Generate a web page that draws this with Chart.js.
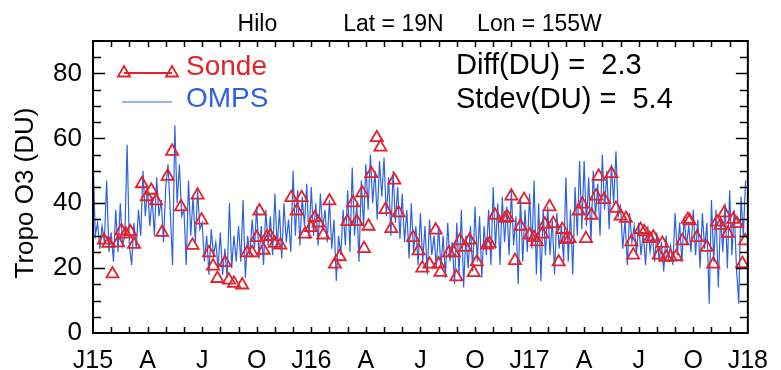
<!DOCTYPE html>
<html>
<head>
<meta charset="utf-8">
<script src="https://cdn.jsdelivr.net/npm/chart.js@4/dist/chart.umd.min.js"></script>
<style>
  html, body { margin: 0; padding: 0; background: #fff; }
  #wrap { width: 781px; height: 370px; position: relative; }
</style>
</head>
<body>
<div id="wrap"><canvas id="o3Chart"></canvas></div>
<script>
// x axis: months since Jan 2015, labels every 3 months
const monthLabels = ['J15', 'A', 'J', 'O', 'J16', 'A', 'J', 'O', 'J17', 'A', 'J', 'O', 'J18'];
const yTicks = [0, 20, 40, 60, 80];

// OMPS tropospheric O3, 8 readings per month (Jan 2015 .. Dec 2017)
const ompsPerMonth = 8;
const ompsO3 = [
    55, 30, 34, 26, 33, 28, 47, 25,
    31, 22, 38, 25, 40, 27, 30, 58,
    27, 21, 34, 26, 38, 30, 50, 36,
    45, 33, 42, 30, 48, 36, 41, 28,
    45, 52, 37, 21, 64, 40, 52, 36,
    38, 21, 47, 30, 42, 28, 44, 32,
    34, 22, 30, 18, 32, 24, 28, 20,
    31, 18, 26, 17, 40, 20, 30, 22,
    33, 22, 41, 17, 30, 24, 35, 26,
    39, 23, 33, 21, 38, 27, 36, 24,
    43, 26, 38, 23, 40, 28, 35, 25,
    50, 30, 44, 27, 42, 33, 46, 29,
    45, 30, 40, 27, 43, 32, 38, 28,
    41, 26, 35, 16, 30, 24, 38, 27,
    44, 25, 51, 30, 40, 22, 47, 33,
    52, 38, 55, 40, 50, 35, 53, 42,
    54, 36, 48, 30, 50, 34, 45, 29,
    43, 28, 38, 23, 40, 25, 33, 21,
    37, 22, 33, 18, 35, 24, 30, 20,
    33, 20, 30, 17, 34, 22, 28, 15,
    34, 18, 38, 14, 30, 20, 33, 19,
    39, 22, 36, 17, 33, 24, 38, 21,
    45, 26, 40, 21, 42, 28, 39, 24,
    44, 27, 36, 15, 42, 22, 38, 25,
    43, 26, 47, 18, 40, 16, 38, 24,
    39, 24, 35, 18, 37, 26, 33, 22,
    48, 22, 38, 18, 45, 30, 53, 32,
    53, 33, 48, 28, 50, 36, 46, 30,
    55, 38, 50, 32, 52, 40, 56, 36,
    39, 26, 35, 21, 37, 28, 33, 24,
    34, 24, 31, 21, 33, 25, 30, 22,
    31, 22, 28, 19, 30, 23, 27, 21,
    37, 24, 34, 22, 36, 27, 33, 25,
    38, 24, 35, 20, 37, 26, 34, 9,
    41, 22, 38, 14, 36, 25, 40, 20,
    44, 24, 38, 20, 9, 42, 30, 47
];

// ozonesonde launches: month position and column (DU)
const sondeMonth = [
    0.6, 0.84, 1.07, 1.38, 1.56, 1.8, 2.05, 2.26, 2.69, 2.96,
    3.2, 3.47, 3.8, 4.1, 4.35, 4.84, 5.47, 5.75, 5.97, 6.38,
    6.6, 6.84, 7.26, 7.47, 7.75, 8.2, 8.47, 8.75, 9.0, 9.15,
    9.38, 9.57, 9.75, 10.0, 10.3, 10.9, 11.2, 11.47, 11.66, 11.98,
    12.2, 12.4, 12.66, 13.0, 13.3, 13.56, 13.98, 14.3, 14.5, 14.8,
    14.9, 15.15, 15.3, 15.6, 15.8, 16.07, 16.4, 16.57, 16.8, 17.6,
    17.9, 18.1, 18.5, 18.84, 19.0, 19.1, 19.57, 19.84, 19.98, 20.17,
    20.47, 20.7, 20.93, 21.1, 21.66, 21.8, 22.1, 22.66, 22.8, 23.0,
    23.2, 23.5, 23.7, 24.0, 24.25, 24.4, 24.7, 24.84, 25.1, 25.3,
    25.6, 25.8, 26.0, 26.2, 26.7, 26.9, 27.1, 27.4, 27.66, 27.8,
    28.1, 28.5, 28.75, 29.0, 29.3, 29.6, 29.7, 30.1, 30.3, 30.6,
    30.8, 31.1, 31.3, 31.5, 31.75, 32.06, 32.4, 32.7, 32.8, 33.2,
    33.75, 34.1, 34.3, 34.5, 34.7, 34.9, 35.2, 35.4, 35.7, 35.85
];
const sondeO3 = [
    28.6, 27.6, 18.2, 27.8, 31.5, 30.5, 31.2, 27.3, 46, 42,
    44, 40.7, 31, 48.3, 56, 38.9, 27, 42.5, 34.8, 24.7,
    20.6, 16.8, 21.7, 16.3, 15.3, 14.8, 24.7, 24.7, 29.4, 37.6,
    25.5, 29.6, 29.8, 27.6, 27.1, 41.7, 37.6, 41.7, 30.5, 32.5,
    35.6, 33.9, 30.2, 40.7, 21.2, 23.5, 34.3, 40.1, 34.3, 43.2,
    26, 32.9, 49.1, 60.2, 57.3, 38, 32.2, 47.1, 37, 29.4,
    25.3, 20, 21.2, 31.7, 21.2, 18.7, 24.7, 24.7, 17.3, 28.4,
    26.4, 28.6, 18.6, 21.9, 27.1, 27.6, 36.3, 35.3, 35.6, 42.2,
    22.3, 32.9, 41.1, 30.2, 29.4, 28.1, 30.5, 33.5, 38.9, 33.7,
    21.9, 31.9, 28.8, 29.1, 37.6, 39.7, 29.1, 36.3, 42.2, 48.3,
    41.1, 49.1, 38.4, 36, 35.3, 28.1, 24, 31.9, 31.2, 29.1,
    29.6, 24, 27.6, 23.3, 23.5, 23.5, 28.4, 35, 34.6, 29.4,
    26.4, 21.2, 34.2, 33.2, 37, 30.7, 35, 33.7, 21.4, 28.4
];

const diffDU = 2.3;
const stdevDU = 5.4;

const RED = '#e3232b';
const BLUE = '#2c62e2';
const FONT = "'Liberation Sans', Arial, sans-serif";

function triangle(ctx, x, y, r) {
    ctx.beginPath();
    ctx.moveTo(x, y - r);
    ctx.lineTo(x + r * 0.866, y + r / 2);
    ctx.lineTo(x - r * 0.866, y + r / 2);
    ctx.closePath();
    ctx.stroke();
}

// IDL-style frame: inward ticks on all sides, title, legend and stats
const idlFrame = {
    id: 'idlFrame',
    afterDraw(chart) {
        const ctx = chart.ctx;
        const a = chart.chartArea;
        const xs = chart.scales.x;
        const ys = chart.scales.y;
        ctx.save();

        ctx.strokeStyle = '#000';
        ctx.lineWidth = 2;
        ctx.strokeRect(a.left, a.top, a.right - a.left, a.bottom - a.top);

        ctx.lineWidth = 1.5;
        ctx.beginPath();
        for (let m = 1; m < 36; m++) {
            const px = Math.round(xs.getPixelForValue(m)) + 0.5;
            ctx.moveTo(px, a.bottom); ctx.lineTo(px, a.bottom - 6);
            ctx.moveTo(px, a.top); ctx.lineTo(px, a.top + 6);
        }
        for (let v = 5; v < 90; v += 5) {
            const py = Math.round(ys.getPixelForValue(v)) + 0.5;
            const len = v % 20 === 0 ? 12 : 8;
            ctx.moveTo(a.left, py); ctx.lineTo(a.left + len, py);
            ctx.moveTo(a.right, py); ctx.lineTo(a.right - len, py);
        }
        ctx.stroke();

        // title
        const cx = (a.left + a.right) / 2;
        ctx.fillStyle = '#000';
        ctx.font = '23px ' + FONT;
        ctx.textAlign = 'center';
        ctx.textBaseline = 'alphabetic';
        ctx.fillText('Hilo', cx - 163, 31);
        ctx.fillText('Lat = 19N', cx - 27, 31);
        ctx.fillText('Lon = 155W', cx + 119, 31);

        // y axis title
        ctx.save();
        ctx.translate(26, (a.top + a.bottom) / 2 + 6);
        ctx.rotate(-Math.PI / 2);
        ctx.font = '26px ' + FONT;
        ctx.textBaseline = 'middle';
        ctx.fillText('Tropo O3 (DU)', 0, 0);
        ctx.restore();

        // legend
        ctx.textAlign = 'left';
        ctx.font = '28px ' + FONT;
        ctx.strokeStyle = RED;
        ctx.lineWidth = 1.8;
        const ly1 = a.top + 32;
        ctx.beginPath();
        ctx.moveTo(a.left + 31, ly1); ctx.lineTo(a.left + 79, ly1);
        ctx.stroke();
        triangle(ctx, a.left + 31, ly1, 7);
        triangle(ctx, a.left + 79, ly1, 7);
        ctx.fillStyle = RED;
        ctx.fillText('Sonde', a.left + 93, a.top + 34);

        const ly2 = a.top + 61;
        ctx.strokeStyle = BLUE;
        ctx.lineWidth = 1;
        ctx.beginPath();
        ctx.moveTo(a.left + 29, ly2); ctx.lineTo(a.left + 79, ly2);
        ctx.stroke();
        ctx.fillStyle = BLUE;
        ctx.fillText('OMPS', a.left + 93, a.top + 66);

        // stats
        ctx.fillStyle = '#000';
        ctx.font = '29px ' + FONT;
        ctx.fillText('Diff(DU) =  ' + diffDU.toFixed(1), a.left + 363, a.top + 33);
        ctx.fillText('Stdev(DU) =  ' + stdevDU.toFixed(1), a.left + 363, a.top + 67);

        ctx.restore();
    }
};

const ompsPoints = ompsO3.map((v, i) => ({ x: i / ompsPerMonth, y: v }));
const sondePoints = sondeMonth.map((m, i) => ({ x: m, y: sondeO3[i] }));

new Chart(document.getElementById('o3Chart'), {
    type: 'scatter',
    data: {
        datasets: [
            {
                label: 'Sonde',
                data: sondePoints,
                showLine: false,
                pointStyle: 'triangle',
                pointRadius: 7,
                pointBorderWidth: 1.8,
                pointBorderColor: RED,
                pointBackgroundColor: 'rgba(0,0,0,0)'
            },
            {
                label: 'OMPS',
                data: ompsPoints,
                showLine: true,
                borderColor: BLUE,
                borderWidth: 1.2,
                pointRadius: 0,
                tension: 0
            }
        ]
    },
    options: {
        responsive: true,
        maintainAspectRatio: false,
        animation: false,
        layout: { padding: { left: 0, top: 41, right: 28, bottom: 0 } },
        plugins: {
            legend: { display: false },
            tooltip: { enabled: false }
        },
        scales: {
            x: {
                type: 'linear',
                min: 0,
                max: 36,
                grid: { display: false, drawTicks: false },
                border: { display: false },
                afterFit: s => { s.height = 37; },
                ticks: {
                    stepSize: 1,
                    autoSkip: false,
                    maxRotation: 0,
                    padding: 13,
                    color: '#000',
                    font: { family: FONT, size: 25 },
                    callback: v => (v % 3 === 0 ? monthLabels[v / 3] : '')
                }
            },
            y: {
                min: 0,
                max: 90,
                grid: { display: false, drawTicks: false },
                border: { display: false },
                afterFit: s => { s.width = 93; },
                afterBuildTicks: s => { s.ticks = yTicks.map(v => ({ value: v })); },
                ticks: {
                    padding: 11,
                    color: '#000',
                    font: { family: FONT, size: 26 }
                }
            }
        }
    },
    plugins: [idlFrame]
});
</script>
</body>
</html>
